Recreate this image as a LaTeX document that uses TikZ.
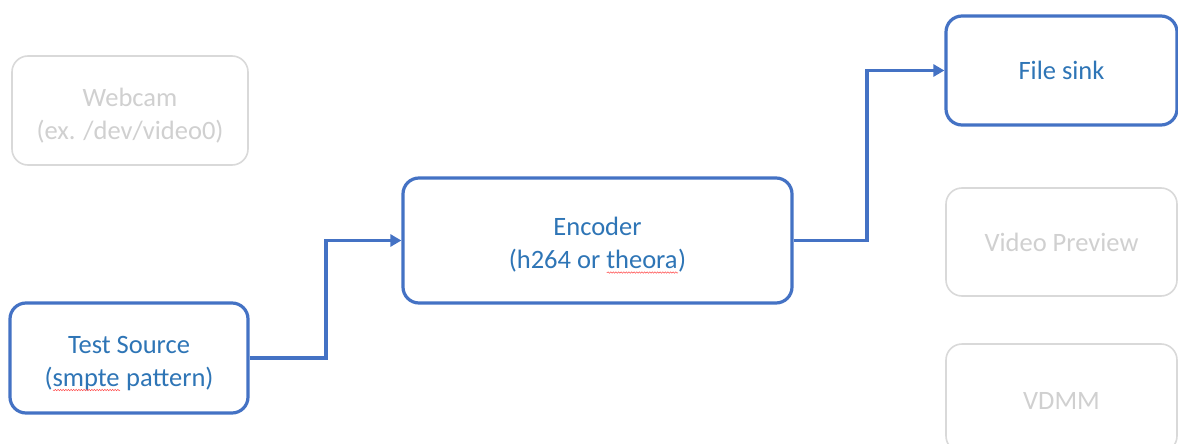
\documentclass[tikz,border=0pt]{standalone}
\usepackage{fontspec}
\setmainfont{Carlito}
\usetikzlibrary{arrows.meta,decorations.pathmorphing}
\definecolor{boxblue}{HTML}{4472C4}
\definecolor{txtblue}{HTML}{2E75B6}
\definecolor{boxgray}{HTML}{D9D9D9}
\definecolor{txtgray}{HTML}{D0D0D0}
\newcommand\squig[1]{\setbox0\hbox{#1}\rlap{#1}\tikz[baseline=0pt,sharp corners]\draw[red!70!white,line width=0.5pt,sharp corners,decorate,decoration={snake,amplitude=0.7pt,segment length=2.6pt}] (0pt,-4pt) -- (-\wd0,-4pt);}
\newcommand\topstrut{\rule{0pt}{28pt}}
\tikzset{
  active/.style={draw=boxblue,line width=3.2pt,rounded corners=16pt,fill=white,align=center,text=txtblue,font=\fontsize{26.5}{33}\selectfont,inner sep=0pt},
  idle/.style={draw=boxgray,line width=1.6pt,rounded corners=16pt,fill=white,align=center,text=txtgray,font=\fontsize{26.5}{33}\selectfont,inner sep=0pt},
  conn/.style={draw=boxblue,line width=3.2pt,-{Triangle[length=11pt,width=12pt]}}
}
\begin{document}
\begin{tikzpicture}[x=1pt,y=-1pt]
\useasboundingbox (0,0) rectangle (1178,444);
\node[idle,minimum width=236pt,minimum height=109pt] (webcam) at (130,110.5) {\topstrut Webcam\\(ex. /dev/video0)};
\node[active,minimum width=238pt,minimum height=110pt] (test) at (129,358) {\topstrut Test Source\\(\squig{smpte} pattern)};
\node[active,minimum width=389pt,minimum height=125pt] (enc) at (597.5,240.5) {\topstrut Encoder\\(h264 or \squig{theora})};
\node[active,minimum width=231pt,minimum height=109pt] (file) at (1061.5,70.5) {File sink};
\node[idle,minimum width=231pt,minimum height=108pt] (prev) at (1061.5,242) {Video Preview};
\node[idle,minimum width=231pt,minimum height=108pt] (vdmm) at (1061.5,398) {\rule{0pt}{22pt}VDMM};
\coordinate (j1) at (326,300);
\coordinate (j2) at (867,150);
\draw[conn] (test.east) -| (j1) |- (enc.west);
\draw[conn] (enc.east) -| (j2) |- (file.west);
\end{tikzpicture}
\end{document}
